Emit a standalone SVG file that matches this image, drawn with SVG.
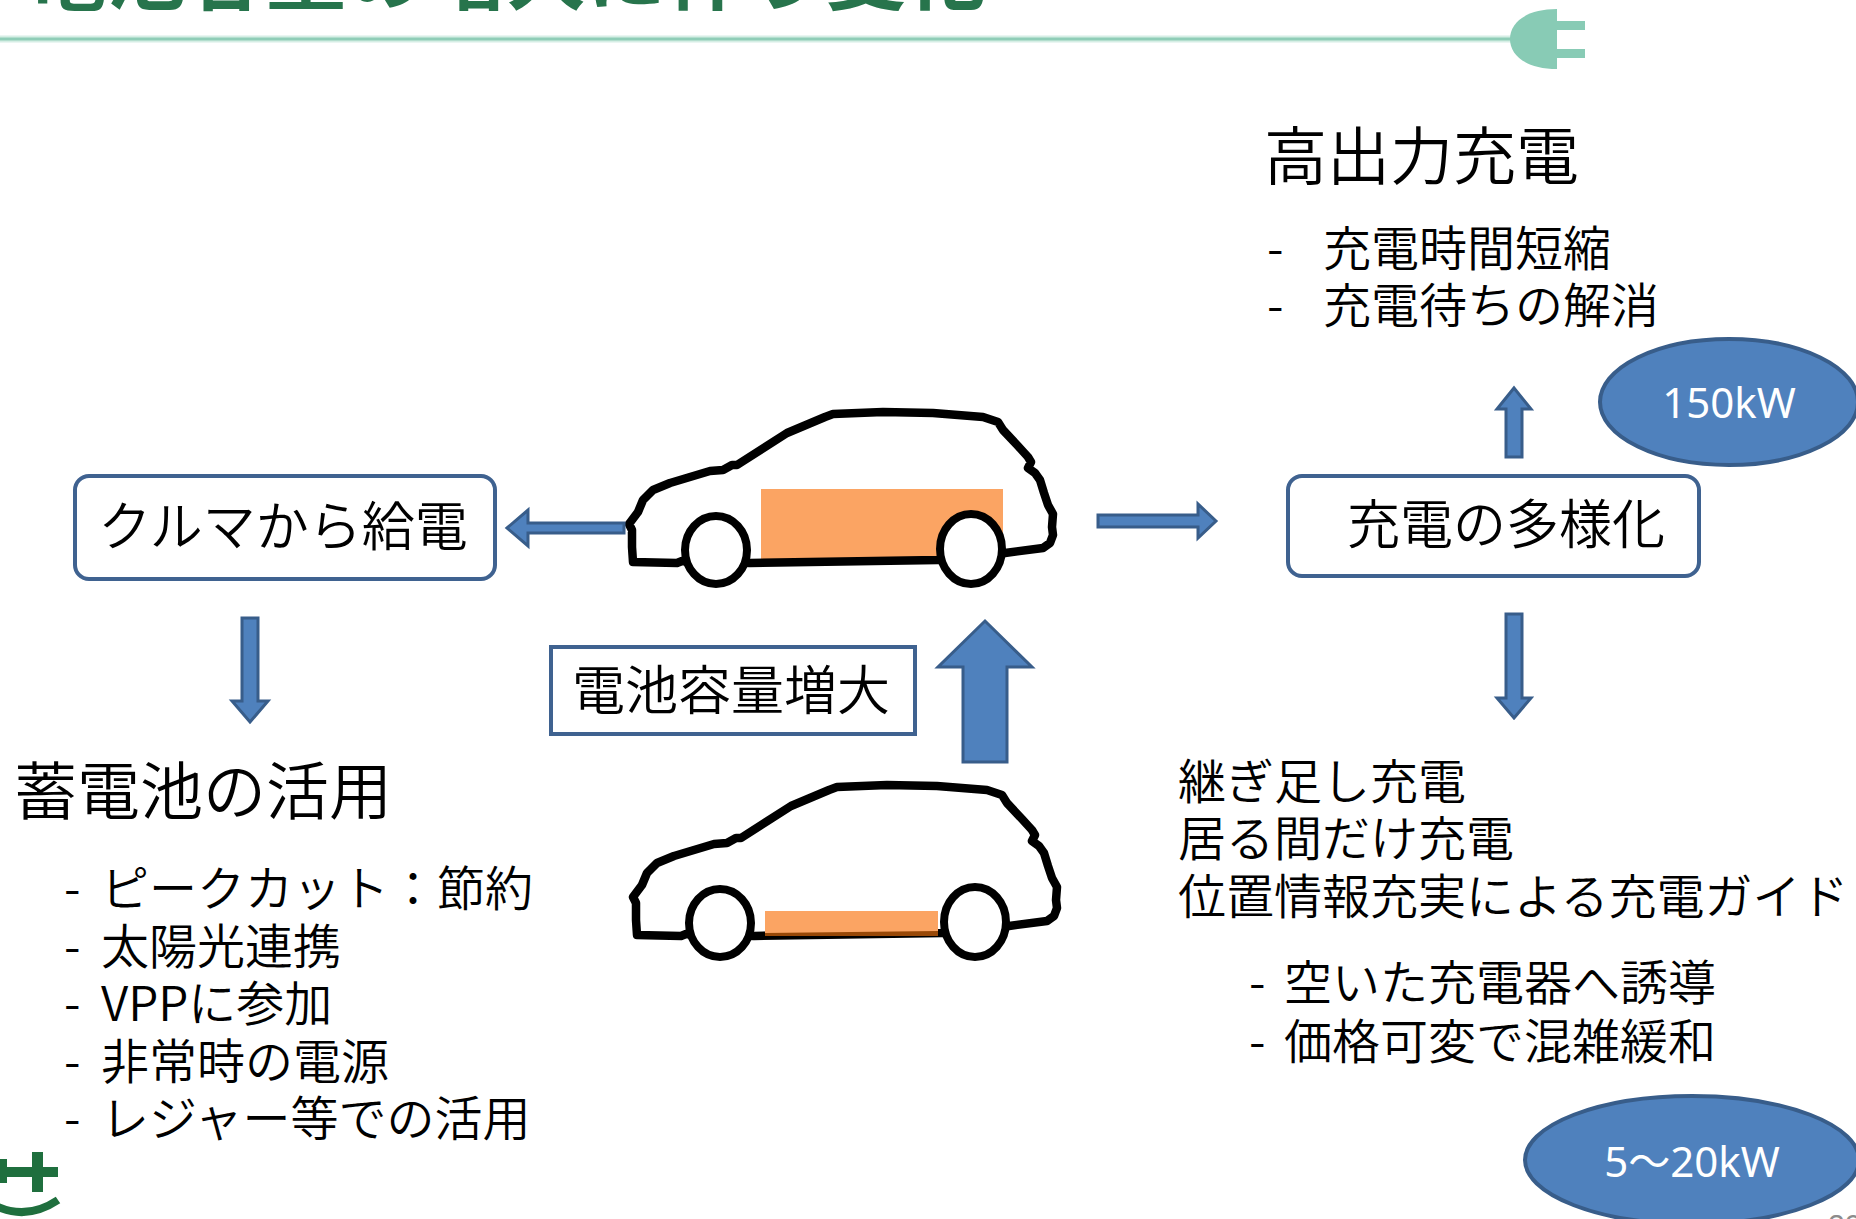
<svg xmlns="http://www.w3.org/2000/svg" width="1856" height="1219" viewBox="0 0 1856 1219">
  <style>
    .jp { font-family: "Noto Sans CJK JP", "Noto Sans", sans-serif; font-weight: 350; fill: #000; }
    .title { font-family: "Noto Sans CJK JP", sans-serif; font-weight: 700; fill: #27744c; }
    .box { fill: #fff; stroke: #3f6290; stroke-width: 4; }
    .arrow { fill: #4f81bd; stroke: #385d8a; stroke-width: 3; stroke-linejoin: miter; }
    .oval { fill: #4f81bd; stroke: #385d8a; stroke-width: 4; }
    .oval-text { font-family: "Noto Sans", "Noto Sans CJK JP", sans-serif; fill: #fff; font-size: 42px; text-anchor: middle; }
    .body-fill { fill: #fff; stroke: none; }
    .body-line { fill: none; stroke: #000; stroke-width: 8.5; stroke-linejoin: round; stroke-linecap: round; }
    .wheel { fill: #fff; stroke: #000; stroke-width: 8; }
    .battery { fill: #fba463; }
    .mark { fill: #88cbb5; }
    .logo { fill: #1f6f3e; }
  </style>
  <defs>
    <!-- hatchback outline, drawn at the upper car position -->
    <path id="car-body" d="M633,562 L677,563 L682,561 L750,563 L938,560 L1005,553 L1043,548 L1050,543 L1053,535 L1052,527 L1053,514 L1048,505 L1044,493 L1040,480 L1035,473 L1028,468 L1031,462 L1028,457 L1018,446 L1003,430 L998,422 L983,417 L933,413 L883,412 L833,414 L825,417 L787,433 L737,465 L732,465 L723,470 L710,471 L670,483 L653,490 L643,500 L638,512 L632,520 L629,524 L632,530 L632,547 L633,562 Z"/>
    <ellipse id="wheel-front" cx="716" cy="550" rx="31" ry="34"/>
    <ellipse id="wheel-rear" cx="971" cy="549" rx="31" ry="35"/>
  </defs>

  <rect x="0" y="0" width="1856" height="1219" fill="#fff"/>

  <!-- header: title, rule and plug -->
  <g id="header">
    <text class="title" x="26" y="3" font-size="80">電池容量の増大に伴う変化</text>
    <line x1="0" y1="39" x2="1514" y2="39" stroke="#d6eee5" stroke-width="7"/>
    <line x1="0" y1="39" x2="1514" y2="39" stroke="#8fcdb7" stroke-width="3"/>
    <path class="mark" d="M1557,9 C1527,9 1510,22 1510,39 C1510,56 1527,69 1557,69 Z"/>
    <rect class="mark" x="1555" y="21" width="30" height="9"/>
    <rect class="mark" x="1555" y="49" width="30" height="9"/>
  </g>

  <!-- car with large battery -->
  <g id="node-car-large">
    <use href="#car-body" class="body-fill"/>
    <rect class="battery" x="761" y="489" width="242" height="71"/>
    <use href="#car-body" class="body-line"/>
    <use href="#wheel-front" class="wheel"/>
    <use href="#wheel-rear" class="wheel"/>
  </g>

  <!-- car with small battery -->
  <g id="node-car-small" transform="translate(4,373)">
    <use href="#car-body" class="body-fill"/>
    <use href="#car-body" class="body-line"/>
    <rect class="battery" x="761" y="538" width="173" height="25"/>
    <polygon points="761,560 934,558 934,563 761,563" fill="#984807"/>
    <use href="#wheel-front" class="wheel"/>
    <use href="#wheel-rear" class="wheel"/>
  </g>

  <g id="node-supply">
    <rect class="box" x="75" y="476" width="420" height="103" rx="14"/>
    <text class="jp" x="283" y="546" font-size="53" text-anchor="middle">クルマから給電</text>
  </g>

  <g id="node-storage">
    <text class="jp" x="14" y="814" font-size="63">蓄電池の活用</text>
    <text class="jp" font-size="48"><tspan x="64" y="906">-</tspan><tspan x="101" y="906">ピークカット：節約</tspan></text>
    <text class="jp" font-size="48"><tspan x="64" y="964">-</tspan><tspan x="101" y="964">太陽光連携</tspan></text>
    <text class="jp" font-size="48"><tspan x="64" y="1021">-</tspan><tspan x="101" y="1021">VPPに参加</tspan></text>
    <text class="jp" font-size="48"><tspan x="64" y="1079">-</tspan><tspan x="101" y="1079">非常時の電源</tspan></text>
    <text class="jp" font-size="48"><tspan x="64" y="1136">-</tspan><tspan x="101" y="1136">レジャー等での活用</tspan></text>
  </g>

  <g id="node-capacity">
    <rect x="551" y="647" width="364" height="87" fill="#fff" stroke="#3f6290" stroke-width="4"/>
    <text class="jp" x="731" y="710" font-size="53" text-anchor="middle">電池容量増大</text>
  </g>

  <g id="node-diversify">
    <rect class="box" x="1288" y="476" width="411" height="100" rx="14"/>
    <text class="jp" x="1347" y="544" font-size="53">充電の多様化</text>
  </g>

  <g id="node-fast">
    <text class="jp" x="1264" y="179" font-size="63">高出力充電</text>
    <text class="jp" font-size="48"><tspan x="1267" y="266">-</tspan><tspan x="1323" y="266">充電時間短縮</tspan></text>
    <text class="jp" font-size="48"><tspan x="1267" y="323">-</tspan><tspan x="1323" y="323">充電待ちの解消</tspan></text>
  </g>

  <g id="node-150kw">
    <ellipse class="oval" cx="1729" cy="402" rx="129" ry="63"/>
    <text class="oval-text" x="1729" y="418">150kW</text>
  </g>

  <g id="node-flex">
    <text class="jp" x="1178" y="799" font-size="48">継ぎ足し充電</text>
    <text class="jp" x="1178" y="856" font-size="48">居る間だけ充電</text>
    <text class="jp" x="1178" y="914" font-size="48">位置情報充実による充電ガイド</text>
    <text class="jp" font-size="48"><tspan x="1249" y="1000">-</tspan><tspan x="1284" y="1000">空いた充電器へ誘導</tspan></text>
    <text class="jp" font-size="48"><tspan x="1249" y="1059">-</tspan><tspan x="1284" y="1059">価格可変で混雑緩和</tspan></text>
  </g>

  <g id="node-5-20kw">
    <ellipse class="oval" cx="1692" cy="1160" rx="167" ry="64"/>
    <text class="oval-text" x="1692" y="1177">5～20kW</text>
  </g>

  <!-- connectors: block arrows -->
  <g id="connectors">
    <polygon class="arrow" points="507,528 528,510 528,523 624,523 624,533 528,533 528,546"/>
    <polygon class="arrow" points="1216,521 1198,504 1198,515 1098,515 1098,527 1198,527 1198,538"/>
    <polygon class="arrow" points="1514,388 1531,409 1522,409 1522,457 1506,457 1506,409 1497,409"/>
    <polygon class="arrow" points="1514,718 1531,698 1522,698 1522,614 1506,614 1506,698 1497,698"/>
    <polygon class="arrow" points="250,722 268,701 258,701 258,618 242,618 242,701 232,701"/>
    <polygon class="arrow" stroke-width="4" points="985,621 1032,667 1007,667 1007,762 963,762 963,667 938,667"/>
  </g>

  <!-- footer mark and page number -->
  <g id="logo">
    <rect class="logo" x="0" y="1159" width="7" height="24"/>
    <rect class="logo" x="0" y="1167" width="58" height="10"/>
    <rect class="logo" x="32" y="1152" width="11" height="40"/>
    <path d="M-2,1207 Q28,1220 58,1200" fill="none" stroke="#1f6f3e" stroke-width="8"/>
  </g>
  <text x="1828" y="1235" font-family="Liberation Sans, sans-serif" font-size="30" fill="#8c8c8c">20</text>
</svg>
